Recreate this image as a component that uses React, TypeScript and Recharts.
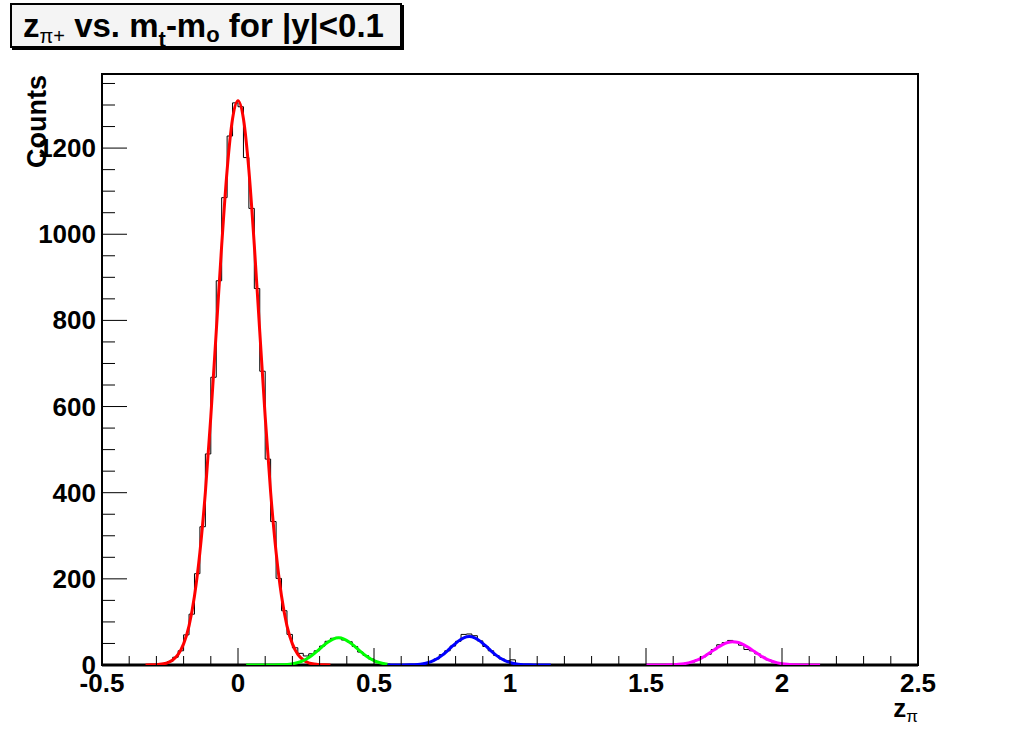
import React from "react";
import { ComposedChart, Line, XAxis, YAxis, ReferenceArea, ReferenceLine } from "recharts";

// histogram: 150 bins of 0.02 from -0.5 to 2.5
const histStart = -0.5;
const binWidth = 0.02;
const histCounts = [
  0, 0, 0, 0, 0, 0, 0, 0, 0, 1,
  1, 3, 8, 18, 33, 70, 118, 212, 321, 490,
  668, 892, 1085, 1228, 1305, 1296, 1178, 1060, 874, 682,
  478, 333, 201, 126, 71, 40, 27, 21, 26, 33,
  44, 55, 62, 64, 58, 54, 43, 30, 22, 14,
  7, 4, 2, 1, 0, 0, 0, 1, 2, 4,
  8, 14, 24, 33, 44, 55, 71, 72, 68, 56,
  43, 33, 22, 14, 10, 12, 2, 1, 0, 0,
  0, 0, 0, 0, 0, 0, 0, 0, 0, 0,
  0, 0, 0, 0, 0, 0, 0, 0, 0, 0,
  0, 0, 0, 0, 1, 1, 2, 4, 7, 12,
  19, 25, 36, 47, 52, 57, 52, 46, 36, 33,
  26, 18, 12, 7, 4, 2, 1, 1, 0, 0,
  0, 0, 0, 0, 0, 0, 0, 0, 0, 0,
  0, 0, 0, 0, 0, 0, 0, 0, 0, 0,
];

// fit curves, sampled every 0.02
const curveStep = 0.02;
const redStart = -0.34;
const redFit = [
  0.1, 0.3, 0.8, 2.1, 5.1, 11.5, 24.5, 49, 91, 160, 262, 401, 576, 774, 974, 1149, 1268,
  1310,
  1268, 1149, 974, 774, 576, 401, 262, 160, 91, 49, 24.5, 11.5, 5.1, 2.1, 0.8, 0.3, 0.1,
];
const greenStart = 0.03;
const greenFit = [
  0, 0, 0.004, 0.013, 0.042, 0.12, 0.34, 0.83, 1.9, 3.9, 7.5, 13.3, 21.4, 31.5, 42.7, 53.0, 60.3,
  63,
  60.3, 53.0, 42.7, 31.5, 21.4, 13.3, 7.5, 3.9, 1.9,
];
const blueStart = 0.55;
const blueFit = [
  0.004, 0.014, 0.04, 0.13, 0.35, 0.87, 2.0, 4.1, 7.9, 13.9, 22.4, 33.0, 44.7, 55.5, 63.2,
  66,
  63.2, 55.5, 44.7, 33.0, 22.4, 13.9, 7.9, 4.1, 2.0, 0.87, 0.35, 0.13, 0.04, 0.014, 0.004,
];
const magentaStart = 1.5;
const magentaFit = [
  0.006, 0.018, 0.05, 0.13, 0.32, 0.73, 1.5, 3.0, 5.5, 9.4, 15.0, 22.2, 30.6, 39.2, 46.8, 52.1,
  54,
  52.1, 46.8, 39.2, 30.6, 22.2, 15.0, 9.4, 5.5, 3.0, 1.5, 0.73, 0.32, 0.13, 0.05, 0.018, 0.006,
];

const xTicks = [
  -0.5, -0.4, -0.3, -0.2, -0.1, 0, 0.1, 0.2, 0.3, 0.4, 0.5, 0.6, 0.7, 0.8, 0.9, 1, 1.1, 1.2,
  1.3, 1.4, 1.5, 1.6, 1.7, 1.8, 1.9, 2, 2.1, 2.2, 2.3, 2.4, 2.5,
];
const xMajor = [-0.5, 0, 0.5, 1, 1.5, 2, 2.5];
const yTicks = [
  0, 50, 100, 150, 200, 250, 300, 350, 400, 450, 500, 550, 600, 650, 700, 750, 800, 850, 900,
  950, 1000, 1050, 1100, 1150, 1200, 1250, 1300, 1350,
];
const yMajor = [0, 200, 400, 600, 800, 1000, 1200];
const yMax = 1372;

const FONT = '"Liberation Sans", Arial, Helvetica, sans-serif';
const PLOT = { left: 102, top: 74, right: 918, bottom: 665 };
const Y_AXIS_W = 60;
const X_AXIS_H = 40;

const histData = histCounts
  .map((c, i) => ({ x: +(histStart + i * binWidth).toFixed(3), y: c }))
  .concat([{ x: 2.5, y: histCounts[histCounts.length - 1] }]);

const toCurve = (start: number, vals: number[]) =>
  vals.map((v, i) => ({ x: +(start + i * curveStep).toFixed(3), y: v }));

const fits = [
  { name: "red", color: "#ff0000", data: toCurve(redStart, redFit) },
  { name: "green", color: "#00ff00", data: toCurve(greenStart, greenFit) },
  { name: "blue", color: "#0000ff", data: toCurve(blueStart, blueFit) },
  { name: "magenta", color: "#ff00ff", data: toCurve(magentaStart, magentaFit) },
];

function YTick(props: any) {
  const { y, payload } = props;
  const v = payload.value;
  const major = yMajor.includes(v);
  return (
    <g>
      <line x1={PLOT.left} x2={PLOT.left + (major ? 25 : 13)} y1={y} y2={y} stroke="#000" />
      {major && (
        <text x={PLOT.left - 6} y={y + 9} textAnchor="end" fontSize={26} fontWeight="bold" fontFamily={FONT} fill="#000">
          {v}
        </text>
      )}
    </g>
  );
}

function XTick(props: any) {
  const { x, payload } = props;
  const v = payload.value;
  const major = xMajor.some((m) => Math.abs(m - v) < 1e-6);
  return (
    <g>
      <line x1={x} x2={x} y1={PLOT.bottom} y2={PLOT.bottom - (major ? 17 : 9)} stroke="#000" />
      {major && (
        <text x={x} y={PLOT.bottom + 27} textAnchor="middle" fontSize={26} fontWeight="bold" fontFamily={FONT} fill="#000">
          {v}
        </text>
      )}
    </g>
  );
}

export default function App() {
  return (
    <div style={{ position: "absolute", left: 0, top: 0, width: 1020, height: 740, background: "#fff", fontFamily: FONT }}>
      <ComposedChart
        width={1020}
        height={740}
        margin={{
          top: PLOT.top,
          left: PLOT.left - Y_AXIS_W,
          right: 1020 - PLOT.right,
          bottom: 740 - PLOT.bottom - X_AXIS_H,
        }}
      >
        <XAxis
          dataKey="x"
          type="number"
          domain={[-0.5, 2.5]}
          ticks={xTicks}
          interval={0}
          height={X_AXIS_H}
          tickSize={0}
          tickMargin={0}
          tick={XTick}
          axisLine={false}
          allowDataOverflow
        />
        <YAxis
          type="number"
          domain={[0, yMax]}
          ticks={yTicks}
          interval={0}
          width={Y_AXIS_W}
          tickSize={0}
          tickMargin={0}
          tick={YTick}
          axisLine={false}
          allowDataOverflow
        />
        <ReferenceArea x1={-0.5} x2={2.5} y1={0} y2={yMax} fill="none" stroke="#000" strokeWidth={2} ifOverflow="visible" />
        <ReferenceLine y={0} stroke="#000" strokeWidth={3} ifOverflow="visible" />
        <Line
          data={histData}
          dataKey="y"
          type="stepAfter"
          stroke="#000"
          strokeWidth={1}
          dot={false}
          isAnimationActive={false}
        />
        {fits.map((f) => (
          <Line
            key={f.name}
            data={f.data}
            dataKey="y"
            type="monotone"
            stroke={f.color}
            strokeWidth={3}
            dot={false}
            isAnimationActive={false}
          />
        ))}
      </ComposedChart>

      <svg width={1020} height={740} style={{ position: "absolute", left: 0, top: 0, pointerEvents: "none" }}>
        <text transform="translate(46,168) rotate(-90)" fontSize={27} fontWeight="bold" fontFamily={FONT} fill="#000">
          Counts
        </text>
        <text x={918} y={717} textAnchor="end" fontSize={26} fontWeight="bold" fontFamily={FONT} fill="#000">
          z
          <tspan fontSize={17} fontWeight="normal" dy={5}>π</tspan>
        </text>
      </svg>

      <div
        style={{
          position: "absolute",
          left: 10,
          top: 3,
          width: 377,
          height: 41,
          border: "2px solid #000",
          boxShadow: "2px 2px 0 #000",
          background: "#f4f4f4",
          fontSize: 33,
          fontWeight: "bold",
          lineHeight: "41px",
          paddingLeft: 11,
          boxSizing: "content-box",
          whiteSpace: "nowrap",
        }}
      >
        z<sub style={{ fontSize: 20, fontWeight: "normal", verticalAlign: -6 }}>π+</sub> vs. m
        <sub style={{ fontSize: 22, verticalAlign: -10 }}>t</sub>-m<sub style={{ fontSize: 22, verticalAlign: -5 }}>o</sub> for |y|&lt;0.1
      </div>
    </div>
  );
}
